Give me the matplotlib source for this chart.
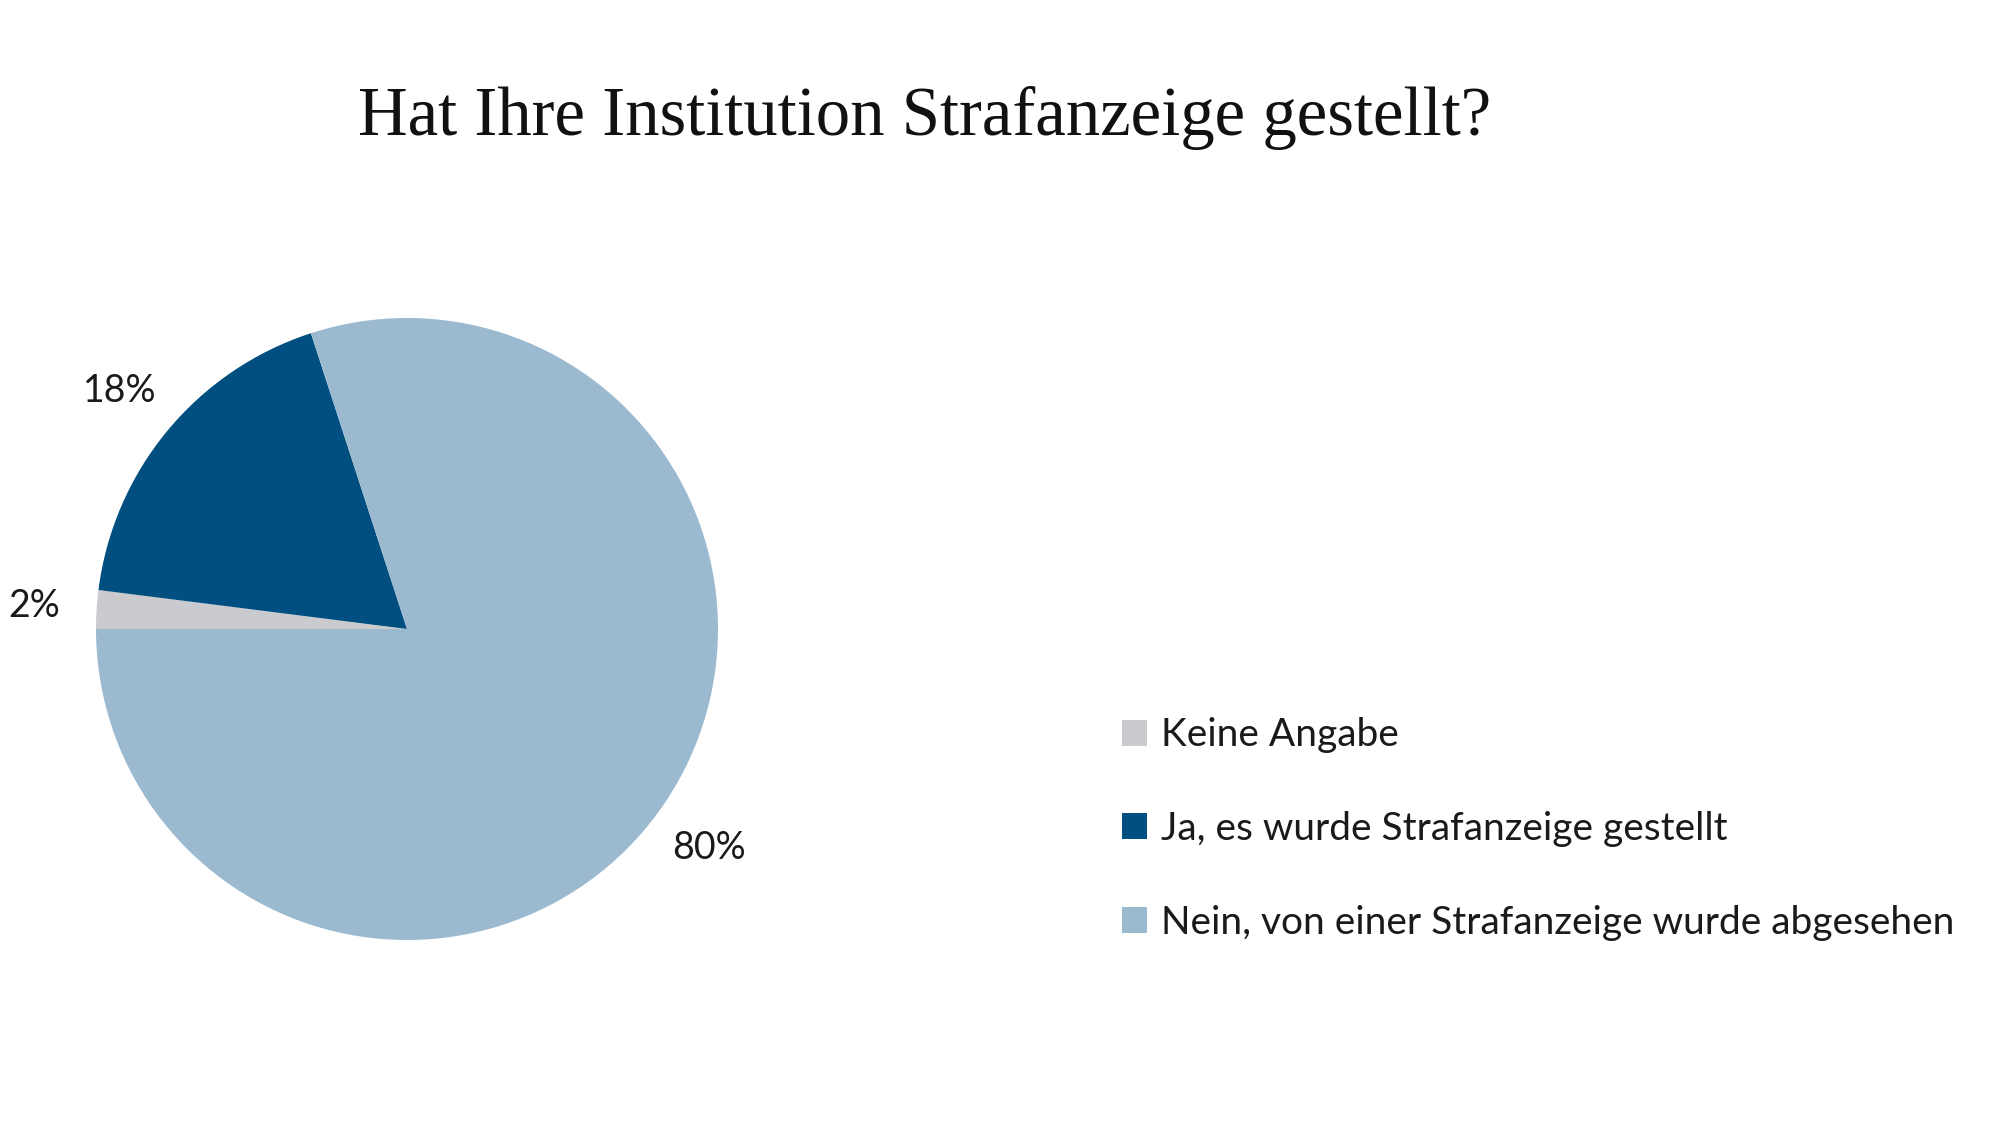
import matplotlib
matplotlib.use("Agg")
import matplotlib.pyplot as plt
from matplotlib.patches import Patch

# Survey answers, clockwise from 9 o'clock
labels = ["Keine Angabe", "Ja, es wurde Strafanzeige gestellt",
          "Nein, von einer Strafanzeige wurde abgesehen"]
shares = [2, 18, 80]
colors = ["#c9cbcf", "#004f80", "#9bbad0"]

title = "Hat Ihre Institution Strafanzeige gestellt?"

fig = plt.figure(figsize=(20, 11.25), dpi=100)
fig.patch.set_facecolor("white")

# pie centred at ~(407, 629) px with radius ~311 px
cx, cy, r = 407 / 2000, 1 - 629 / 1125, 311
ax = fig.add_axes([cx - r / 2000, cy - r / 1125, 2 * r / 2000, 2 * r / 1125])
wedges, _, pcts = ax.pie(
    shares, colors=colors, startangle=180, counterclock=False,
    autopct="%d%%", pctdistance=1.2, radius=1,
    textprops=dict(fontsize=27, family="Lato", color="#1a1a1a"),
)
ax.set_xlim(-1, 1)
ax.set_ylim(-1, 1)
ax.set_aspect("auto")

fig.text(925 / 2000, 1 - 118 / 1125, title, ha="center", va="center",
         fontsize=49.5, family="Liberation Serif", color="#111111")

handles = [Patch(facecolor=c, edgecolor="none") for c in colors]
fig.legend(handles, labels, loc="center left",
           bbox_to_anchor=(1122 / 2000, 1 - 829 / 1125),
           frameon=False, prop=dict(family="Lato", size=28),
           labelcolor="#1a1a1a",
           handlelength=0.65, handleheight=0.65, handletextpad=0.35,
           labelspacing=1.48, borderpad=0, borderaxespad=0)

fig.savefig("out.png", dpi=100)
